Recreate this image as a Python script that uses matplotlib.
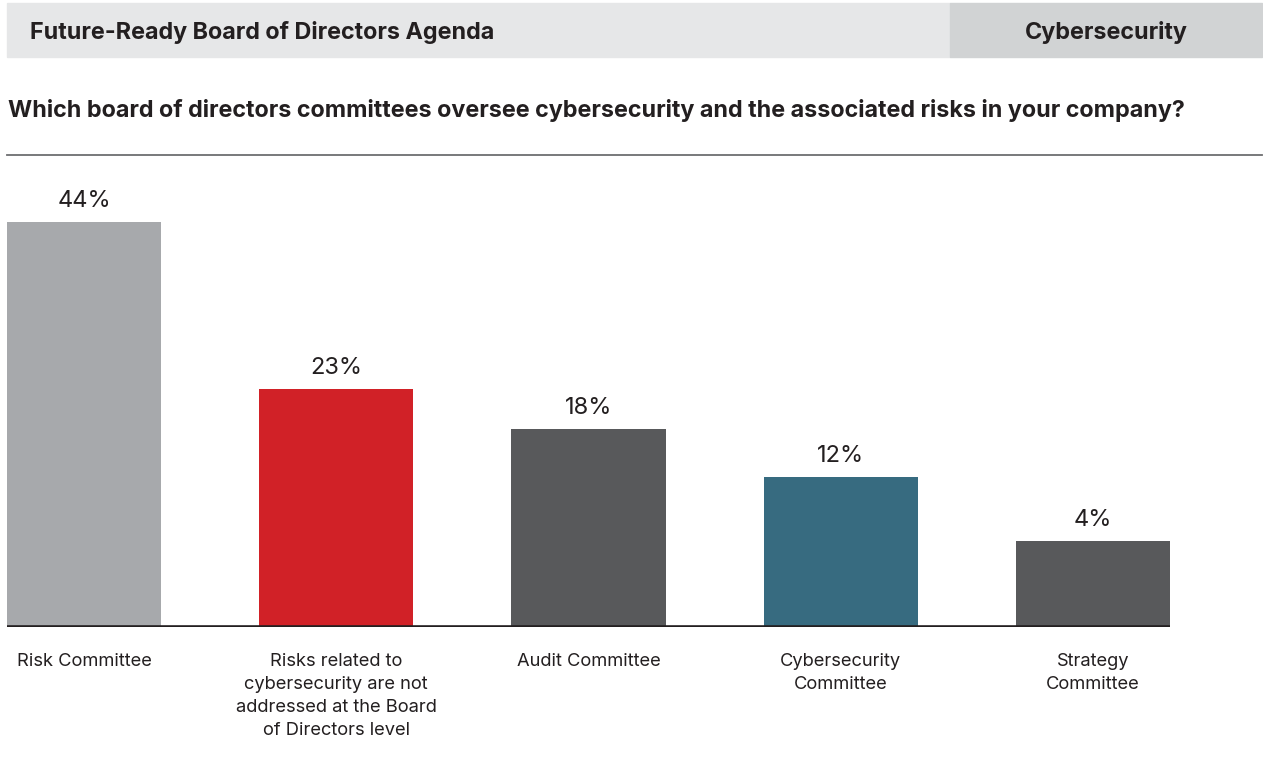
import numpy as np
import matplotlib
matplotlib.use("Agg")
import matplotlib.pyplot as plt
from matplotlib.patches import Rectangle
from matplotlib.lines import Line2D

plt.rcParams['font.family'] = ['Inter', 'DejaVu Sans']

categories = ["Risk Committee",
              "Risks related to\ncybersecurity are not\naddressed at the Board\nof Directors level",
              "Audit Committee",
              "Cybersecurity\nCommittee",
              "Strategy\nCommittee"]
values = [44, 23, 18, 12, 4]
value_labels = ["44%", "23%", "18%", "12%", "4%"]
colors = ["#a7a9ac", "#d12127", "#58595b", "#376b80", "#58595b"]

header_left = "Future-Ready Board of Directors Agenda"
header_right = "Cybersecurity"
question = "Which board of directors committees oversee cybersecurity and the associated risks in your company?"

W, H = 1263, 767
fig = plt.figure(figsize=(W / 100, H / 100), dpi=100)
txt = "#231f20"

def fx(px):
    return px / W

def fy(py):
    return 1 - py / H

# header band
fig.patches.append(Rectangle((fx(7), fy(57)), fx(943), 54 / H, transform=fig.transFigure,
                             color="#e6e7e8", zorder=0))
fig.patches.append(Rectangle((fx(950), fy(57)), fx(312), 54 / H, transform=fig.transFigure,
                             color="#d1d3d4", zorder=0))
fig.text(fx(30), fy(32.5), header_left, fontsize=16.8, fontweight="bold", color=txt, va="center")
fig.text(fx(1106), fy(32.5), header_right, fontsize=16.8, fontweight="bold", color=txt,
         va="center", ha="center")

fig.text(fx(8), fy(111), question, fontsize=16.8, fontweight="bold", color=txt, va="center")
fig.lines.append(Line2D([fx(7), fx(1262)], [fy(155), fy(155)], transform=fig.transFigure,
                        color="#6d6e71", lw=1.3))

# chart area
floor = -6.8
ax = fig.add_axes([fx(7), fy(627), fx(1163), (627 - 160) / H])
x = np.arange(len(values))
w = 0.611
ax.bar(x, np.array(values) - floor, bottom=floor, width=w, color=colors, zorder=2)
ax.set_xlim(-w / 2, len(values) - 1 + w / 2)
ax.set_ylim(floor, 44 + (222 - 160) / 7.975)
ax.axhline(floor, color=txt, lw=2.6, zorder=3)
ax.axis("off")

for xi, v, lab in zip(x, values, value_labels):
    ax.annotate(lab, (xi, v), xytext=(0, 10), textcoords="offset pixels",
                ha="center", va="bottom", fontsize=17, color=txt)

for xi, cat in zip(x, categories):
    ax.annotate(cat, (xi, floor), xytext=(0, -26), textcoords="offset pixels",
                ha="center", va="top", fontsize=13.2, color=txt, linespacing=1.45,
                annotation_clip=False)

fig.savefig("out.png", dpi=100)
